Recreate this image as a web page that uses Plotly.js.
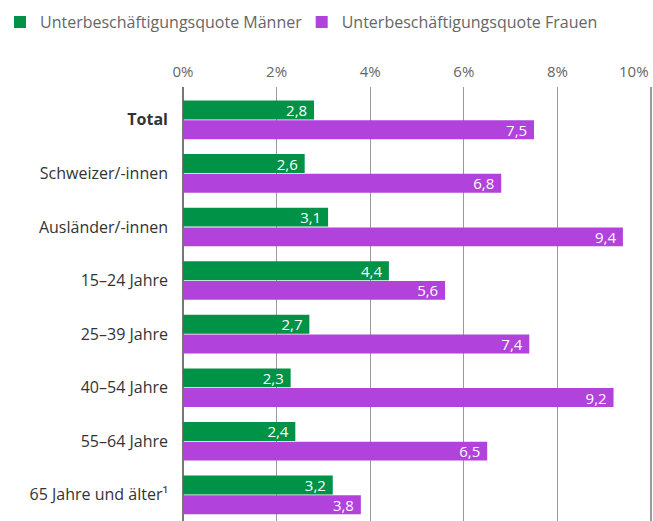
<!DOCTYPE html>
<html>
<head>
<meta charset="utf-8">
<script src="https://cdn.plot.ly/plotly-3.0.1.min.js"></script>
<style>html,body{margin:0;padding:0;background:#fff;}#chart{width:653px;height:521px;}</style>
</head>
<body>
<div id="chart"></div>
<script>
const categories = ["Total", "Schweizer/-innen", "Ausländer/-innen", "15–24 Jahre", "25–39 Jahre", "40–54 Jahre", "55–64 Jahre", "65 Jahre und älter¹"];
const men = [2.8, 2.6, 3.1, 4.4, 2.7, 2.3, 2.4, 3.2];
const women = [7.5, 6.8, 9.4, 5.6, 7.4, 9.2, 6.5, 3.8];
const seriesNames = ["Unterbeschäftigungsquote Männer", "Unterbeschäftigungsquote Frauen"];
const xTicks = [0, 2, 4, 6, 8, 10];

const ticktext = categories.map((c, i) => i === 0 ? "<b>" + c + "</b>" : c);
const lastTick = xTicks[xTicks.length - 1];
const gridColor = "#9a9a9a";

const common = {
  type: "bar",
  orientation: "h",
  y: categories,
  texttemplate: "%{x:.1f}\u00a0",
  textposition: "inside",
  insidetextanchor: "end",
  constraintext: "none",
  textfont: {color: "#ffffff", size: 15, family: "Open Sans"},
  hoverinfo: "none",
  cliponaxis: false
};

const data = [
  Object.assign({}, common, {x: men, name: seriesNames[0], marker: {color: "#009247"}, legend: "legend"}),
  Object.assign({}, common, {x: women, name: seriesNames[1], marker: {color: "#B142DC"}, legend: "legend2"})
];

const legendBase = {
  orientation: "h",
  xref: "container", yref: "container",
  y: 0.990, xanchor: "left", yanchor: "top",
  font: {size: 16, color: "#666666"},
  itemwidth: 30,
  bgcolor: "rgba(0,0,0,0)"
};

const layout = {
  width: 653,
  height: 521,
  margin: {l: 183, r: 0, t: 87, b: 0},
  paper_bgcolor: "#ffffff",
  plot_bgcolor: "#ffffff",
  font: {family: "Open Sans", size: 15, color: "#666666"},
  separators: ", ",
  barmode: "group",
  bargap: 0.265,
  bargroupgap: 0.04,
  showlegend: true,
  legend: Object.assign({}, legendBase, {x: -0.0185}),
  legend2: Object.assign({}, legendBase, {x: 0.462}),
  xaxis: {
    side: "top",
    range: [0, 10.043],
    tickvals: xTicks,
    ticktext: xTicks.map(v => v === lastTick ? "" : v + "%"),
    showgrid: true,
    gridcolor: gridColor,
    gridwidth: 1.2,
    zeroline: true,
    zerolinecolor: "#777777",
    zerolinewidth: 1.5,
    showline: false,
    ticks: "",
    ticklabelstandoff: 6,
    tickfont: {size: 15, color: "#666666"},
    fixedrange: true
  },
  yaxis: {
    type: "category",
    range: [7.488, -0.613],
    tickvals: categories,
    ticktext: ticktext,
    showgrid: false,
    zeroline: false,
    showline: false,
    ticks: "",
    ticklabelstandoff: 14,
    tickfont: {size: 16, color: "#333333"},
    fixedrange: true
  },
  shapes: [{
    type: "line", layer: "below",
    xref: "x", yref: "paper",
    x0: lastTick, x1: lastTick, y0: 0, y1: 1,
    line: {color: gridColor, width: 1.2}
  }],
  annotations: [{
    xref: "x", yref: "paper",
    x: lastTick, y: 1,
    xanchor: "right", yanchor: "bottom",
    yshift: 4,
    showarrow: false,
    text: lastTick + "%",
    font: {size: 15, color: "#666666"}
  }]
};

Plotly.newPlot("chart", data, layout, {displayModeBar: false, staticPlot: true});
</script>
</body>
</html>
